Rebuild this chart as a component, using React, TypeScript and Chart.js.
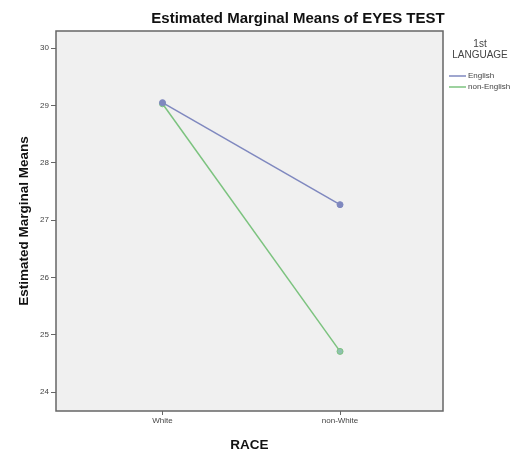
import React, { useEffect, useRef } from "react";
import { Chart, registerables } from "chart.js";

Chart.register(...registerables);

const categories = ["White", "non-White"];
const seriesNames = ["English", "non-English"];
const englishValues = [29.05, 27.27];
const nonEnglishValues = [29.03, 24.71];
const yTickValues = [24, 25, 26, 27, 28, 29, 30];
const chartTitle = "Estimated Marginal Means of EYES TEST";
const legendTitle = ["1st", "LANGUAGE"];
const yAxisTitle = "Estimated Marginal Means";
const xAxisTitle = "RACE";

const FONT = "'Liberation Sans', Arial, sans-serif";
const COLORS = ["#7f88bf", "#7cc37f"];

export default function App() {
  const ref = useRef<HTMLCanvasElement | null>(null);
  useEffect(() => {
    document.body.style.margin = "0";
    const canvas = ref.current!;
    const decor = {
      id: "decor",
      beforeDatasetsDraw(chart: any) {
        const { ctx, chartArea: a } = chart;
        ctx.save();
        ctx.fillStyle = "#f0f0f0";
        ctx.fillRect(a.left, a.top, a.right - a.left, a.bottom - a.top);
        ctx.restore();
      },
      afterDraw(chart: any) {
        const { ctx, chartArea: a } = chart;
        ctx.save();
        ctx.strokeStyle = "#666666";
        ctx.lineWidth = 1.5;
        ctx.strokeRect(a.left, a.top, a.right - a.left, a.bottom - a.top);
        // title
        ctx.fillStyle = "#111";
        ctx.textAlign = "center";
        ctx.textBaseline = "middle";
        ctx.font = `bold 15px ${FONT}`;
        ctx.fillText(chartTitle, 298, 19);
        // axis titles
        ctx.font = `bold 13.5px ${FONT}`;
        ctx.fillText(xAxisTitle, (a.left + a.right) / 2, 445);
        ctx.save();
        ctx.translate(24, (a.top + a.bottom) / 2);
        ctx.rotate(-Math.PI / 2);
        ctx.fillText(yAxisTitle, 0, 0);
        ctx.restore();
        // legend
        ctx.font = `10px ${FONT}`;
        ctx.fillStyle = "#444";
        ctx.fillText(legendTitle[0], 480, 44);
        ctx.fillText(legendTitle[1], 480, 55);
        ctx.font = `8px ${FONT}`;
        ctx.textAlign = "left";
        seriesNames.forEach((n, i) => {
          const y = 76 + i * 11;
          ctx.strokeStyle = COLORS[i];
          ctx.lineWidth = 1.5;
          ctx.beginPath();
          ctx.moveTo(449, y);
          ctx.lineTo(466, y);
          ctx.stroke();
          ctx.fillStyle = "#444";
          ctx.fillText(n, 468, y);
        });
        ctx.restore();
      },
    };
    const mk = (vals: number[]) => vals.map((v, i) => ({ x: i, y: v }));
    const chart = new Chart(canvas, {
      type: "line",
      data: {
        datasets: [
          {
            label: seriesNames[0],
            data: mk(englishValues),
            borderColor: COLORS[0],
            backgroundColor: COLORS[0],
            borderWidth: 1.5,
            pointRadius: 3,
            pointBorderWidth: 1,
          },
          {
            label: seriesNames[1],
            data: mk(nonEnglishValues),
            borderColor: COLORS[1],
            backgroundColor: "#8fc0b0",
            borderWidth: 1.5,
            pointRadius: 3,
            pointBorderWidth: 1,
          },
        ],
      },
      options: {
        responsive: false,
        animation: false,
        layout: { padding: { top: 31, right: 86, left: 0, bottom: 0 } },
        plugins: { legend: { display: false }, title: { display: false }, tooltip: { enabled: false } },
        scales: {
          x: {
            type: "linear",
            min: -0.6,
            max: 1.58,
            afterBuildTicks: (s: any) => {
              s.ticks = categories.map((_, i) => ({ value: i }));
            },
            afterFit: (s: any) => {
              s.height = 44;
            },
            grid: { drawOnChartArea: false, drawTicks: true, tickLength: 4, color: "#666" },
            border: { display: false },
            ticks: {
              autoSkip: false,
              maxRotation: 0,
              padding: 1,
              color: "#444",
              font: { family: FONT, size: 8 },
              callback: (v: any) => categories[v] ?? "",
            },
          },
          y: {
            type: "linear",
            min: 23.67,
            max: 30.3,
            afterBuildTicks: (s: any) => {
              s.ticks = yTickValues.map((v) => ({ value: v }));
            },
            afterFit: (s: any) => {
              s.width = 56;
            },
            grid: { drawOnChartArea: false, drawTicks: true, tickLength: 5, color: "#666" },
            border: { display: false },
            ticks: {
              padding: 2,
              color: "#444",
              font: { family: FONT, size: 8 },
            },
          },
        },
      },
      plugins: [decor],
    });
    return () => chart.destroy();
  }, []);
  return (
    <div style={{ position: "absolute", left: 0, top: 0, width: 529, height: 455, background: "#fff" }}>
      <canvas ref={ref} width={529} height={455} style={{ width: 529, height: 455 }} />
    </div>
  );
}
